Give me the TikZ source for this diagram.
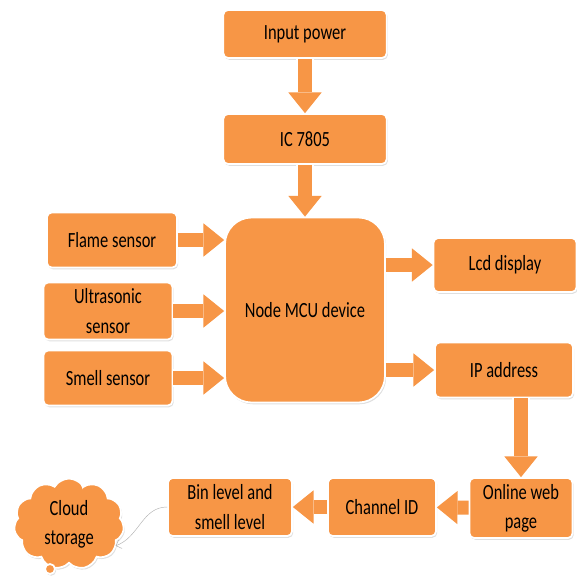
\documentclass[tikz,border=0pt]{standalone}
\usepackage{fontspec}
\setmainfont[FakeStretch=0.76]{Carlito}
\usetikzlibrary{arrows.meta}
\usetikzlibrary{shapes.symbols}
\usetikzlibrary{shadows}
\definecolor{blockorange}{HTML}{F79646}
\tikzset{
  block/.style={rectangle, rounded corners=4pt, fill=blockorange, draw=white, line width=1.5pt,
    drop shadow={opacity=0.25, shadow xshift=1pt, shadow yshift=-1.5pt},
    align=center, inner sep=2pt, font=\fontsize{18.5}{25}\selectfont},
  fatarrow/.style={draw=blockorange, line width=0.42cm, -{Triangle[width=1cm,length=0.62cm,line width=0pt]},
    preaction={draw=white, line width=0.52cm, -{Triangle[width=1.17cm,length=0.74cm,line width=0pt]}}}
}

\begin{document}
\begin{tikzpicture}[x=0.03cm,y=-0.03cm]
    \useasboundingbox (0,0) rectangle (576,578);
    % power chain
    \node[block, minimum width=4.9cm, minimum height=1.44cm] (inp) at (305,34) {Input power};
    \node[block, minimum width=4.9cm, minimum height=1.5cm] (ic) at (305,139) {IC 7805};
    \node[block, rounded corners=0.8cm, minimum width=4.8cm, minimum height=5.55cm] (mcu) at (305,310) {Node MCU device};
    % sensors
    \node[block, minimum width=3.9cm, minimum height=1.65cm] (flame) at (112,240) {Flame sensor};
    \node[block, minimum width=3.87cm, minimum height=1.71cm] (ultra) at (108,311) {Ultrasonic\\sensor};
    \node[block, minimum width=3.87cm, minimum height=1.65cm] (smell) at (108,378) {Smell sensor};
    % outputs
    \node[block, minimum width=4.29cm, minimum height=1.62cm] (lcd) at (505,265) {Lcd display};
    \node[block, minimum width=4.14cm, minimum height=1.65cm] (ip) at (504,370) {IP address};
    \node[block, minimum width=3.09cm, minimum height=1.8cm] (web) at (521,508) {Online web\\page};
    \node[block, minimum width=3.24cm, minimum height=1.74cm] (chan) at (382,507) {Channel ID};
    \node[block, minimum width=3.72cm, minimum height=1.74cm] (bin) at (230,507) {Bin level and\\smell level};
    \node[block, cloud, cloud puffs=11, aspect=1.2, minimum width=3.3cm, minimum height=2.7cm] (cloud) at (69,524) {Cloud\\storage};
    \node[block, circle, minimum size=0.3cm, inner sep=0pt] (puff) at (50,569) {};
    % connectors
    \draw[fatarrow] (inp) -- (ic);
    \draw[fatarrow] (ic) -- (mcu);
    \draw[fatarrow] (flame) -- (flame -| mcu.west);
    \draw[fatarrow] (ultra) -- (ultra -| mcu.west);
    \draw[fatarrow] (smell) -- (smell -| mcu.west);
    \draw[fatarrow] (mcu.east |- lcd) -- (lcd);
    \draw[fatarrow] (mcu.east |- ip) -- (ip);
    \draw[fatarrow] (ip.south -| web) -- (web);
    \draw[fatarrow] (web) -- (chan);
    \draw[fatarrow] (chan) -- (bin);
    \draw[gray!60, -{Straight Barb[length=4pt]}] (bin.west) to[out=180,in=20] (cloud.-25);
  \end{tikzpicture}
\end{document}
